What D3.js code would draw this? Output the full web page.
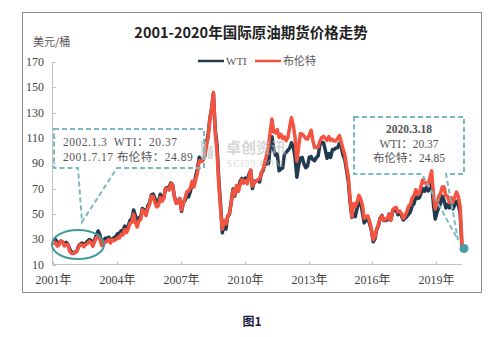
<!DOCTYPE html>
<html><head><meta charset="utf-8">
<script src="https://cdn.jsdelivr.net/npm/d3@7"></script>
<style>body{margin:0;background:#fff}svg{display:block}</style>
</head><body><svg id="c" width="500" height="337"></svg>
<script>
const extraDates = ["2020-03-09", "2020-03-18"];
const wti = [
29.6,29.6,27.2,27.4,28.6,27.6,26.5,27.5,25.9,22.2,19.7,19.3,
19.7,20.7,24.5,26.2,27.0,25.5,26.9,28.4,29.7,28.9,26.3,29.4,
32.9,36.5,33.6,28.3,28.1,30.7,30.8,31.6,28.3,30.3,31.1,32.2,
34.3,34.7,36.7,36.7,40.3,38.0,40.7,44.9,46.0,53.1,48.5,43.3,
46.8,48.0,54.3,53.0,49.8,56.3,58.7,65.0,65.6,62.4,58.3,59.4,
65.5,61.6,62.9,69.7,70.9,70.9,74.4,73.0,63.8,58.9,59.1,62.0,
52.0,59.3,60.4,63.9,63.5,67.5,74.1,72.4,79.9,85.8,94.8,91.7,
93.0,95.4,105.5,112.6,125.4,133.9,145.0,116.7,104.1,76.6,57.3,35.0,
41.7,38.0,47.9,49.6,59.0,69.6,64.1,71.0,69.4,75.7,78.0,74.5,
78.3,76.4,81.2,84.3,70.0,75.3,76.3,76.6,75.2,81.9,84.3,89.2,
89.6,89.7,102.9,111.0,100.9,96.3,97.3,84.0,85.5,86.3,97.2,98.6,
100.3,102.2,106.2,103.3,94.7,79.0,87.9,94.1,94.5,89.5,86.5,87.9,
94.8,95.3,92.9,92.0,94.5,95.8,104.6,106.6,106.3,100.5,93.9,97.6,
94.6,100.8,100.8,102.1,102.2,105.8,103.6,96.5,93.2,84.4,75.8,59.3,
47.2,50.6,47.8,54.5,59.3,59.8,50.9,42.9,45.5,46.2,42.4,37.2,
28.0,30.3,37.5,40.8,46.7,48.8,44.7,44.7,45.2,49.8,45.7,52.0,
52.5,53.5,49.3,51.1,48.5,45.2,46.6,48.0,49.8,51.6,56.6,57.9,
63.7,62.2,62.7,66.3,70.0,67.9,71.0,68.1,70.2,74.0,57.0,46.0,
51.4,54.9,58.2,63.9,60.8,54.7,57.4,54.8,57.0,54.0,57.0,59.9,
57.5,50.5,31.1,20.37];
const brent = [
25.6,27.5,24.5,25.6,28.5,27.8,24.6,25.8,25.7,20.5,18.8,18.7,
19.4,20.3,23.7,25.7,25.4,24.1,25.7,26.6,28.3,27.5,24.3,28.0,
31.2,32.8,30.3,25.0,25.8,27.6,28.4,29.8,27.1,29.6,28.8,29.8,
31.2,30.9,33.8,33.4,37.6,35.2,38.2,42.7,43.2,49.8,43.1,39.6,
44.5,45.5,53.1,51.9,48.7,54.3,57.5,63.9,63.8,58.9,55.5,56.7,
63.0,60.0,62.1,70.3,69.8,68.7,73.7,73.2,62.8,58.3,58.8,62.0,
53.0,57.8,62.4,67.5,67.9,70.6,75.8,71.2,77.0,82.5,92.1,91.4,
91.9,94.8,103.3,110.4,124.6,133.5,146.0,113.9,99.1,72.8,53.2,38.0,
45.0,42.0,47.0,50.8,57.9,68.6,64.9,72.5,67.7,73.2,77.0,74.7,
76.2,73.8,78.8,84.8,72.0,74.8,75.6,77.0,77.8,82.7,85.3,91.5,
96.5,103.7,114.6,125.0,114.5,113.9,116.7,110.4,112.8,109.6,110.8,107.9,
110.7,119.3,126.0,119.8,110.3,92.0,102.6,113.4,113.0,111.5,109.5,109.2,
112.3,116.1,108.5,102.3,102.6,102.9,107.4,110.3,111.2,109.5,108.1,111.0,
108.1,108.9,107.5,107.8,109.5,111.9,106.8,101.6,97.1,87.4,79.4,62.3,
47.8,58.1,55.9,59.5,64.6,61.7,56.8,46.5,47.6,48.4,44.3,38.0,
29.5,32.2,38.2,41.6,46.7,48.3,45.0,45.7,46.6,49.5,44.7,53.3,
54.6,55.0,51.6,52.3,50.3,46.4,48.5,51.7,56.2,57.5,62.7,64.4,
69.1,65.3,66.0,72.1,76.9,74.4,74.3,72.5,78.9,84.0,64.8,54.0,
59.4,64.0,66.1,71.2,71.3,64.2,63.9,59.0,62.8,59.7,63.2,67.3,
63.7,55.7,34.4,24.85];
const yTicks = [10,30,50,70,90,110,130,150,170];
const xTickYears = [2001,2004,2007,2010,2013,2016,2019];
const seriesNames = ["WTI","布伦特"];
const note1 = ["2002.1.3  WTI：20.37","2001.7.17 布伦特：24.89"];
const note2 = ["2020.3.18","WTI：20.37","布伦特：24.85"];

const monthly = d3.timeMonth.range(new Date(2001,0,1), new Date(2020,2,1)).map(d=>new Date(d.getFullYear(), d.getMonth(), 15));
const dates = monthly.concat(extraDates.map(s=>d3.timeParse("%Y-%m-%d")(s)));

const svg = d3.select("#c");
svg.append("rect").attr("width",500).attr("height",337).attr("fill","#fff");
svg.append("rect").attr("x",22.5).attr("y",12.5).attr("width",459).attr("height",280)
  .attr("fill","none").attr("stroke","#8c8c8c").attr("stroke-width",1);

const x = d3.scaleTime().domain([new Date(2001,0,1), new Date(2020,2,18)]).range([53,462]);
const y = d3.scaleLinear().domain([10,170]).range([264.5,62]);
const FONT_NUM = "'Liberation Serif','Noto Sans CJK SC',serif";

// title
svg.append("text").attr("x",251).attr("y",38).attr("text-anchor","middle")
  .attr("font-family","'Noto Sans CJK SC',sans-serif").attr("font-weight","bold").attr("font-size",14.5)
  .attr("fill","#222").text("2001-2020年国际原油期货价格走势");
svg.append("text").attr("x",33).attr("y",46).attr("font-family","'Noto Sans CJK SC',sans-serif")
  .attr("font-size",11).attr("fill","#555").text("美元/桶");

// legend
const leg = [{n:seriesNames[0],c:"#223a50",x0:198},{n:seriesNames[1],c:"#f45340",x0:255}];
leg.forEach(l=>{
  svg.append("line").attr("x1",l.x0).attr("x2",l.x0+26).attr("y1",61).attr("y2",61).attr("stroke",l.c).attr("stroke-width",2.5);
  svg.append("text").attr("x",l.x0+28).attr("y",65).attr("font-family",FONT_NUM).attr("font-size",11).attr("fill","#555").text(l.n);
});

// axes
const ax = svg.append("g").attr("stroke","#c0c0c0").attr("fill","none");
ax.append("line").attr("x1",52.5).attr("x2",52.5).attr("y1",y(170)).attr("y2",y(10));
ax.append("line").attr("x1",52.5).attr("x2",462).attr("y1",y(10)).attr("y2",y(10));
yTicks.forEach(t=>{
  ax.append("line").attr("x1",52.5).attr("x2",56).attr("y1",Math.round(y(t))+0.5).attr("y2",Math.round(y(t))+0.5);
  svg.append("text").attr("x",44).attr("y",y(t)+4).attr("text-anchor","end").attr("font-family",FONT_NUM)
    .attr("font-size",12).attr("fill","#444").text(t);
});
xTickYears.forEach(t=>{
  const xx = Math.round(x(new Date(t,0,1)))+0.5;
  ax.append("line").attr("x1",xx).attr("x2",xx).attr("y1",y(10)).attr("y2",y(10)-3);
  svg.append("text").attr("x",xx).attr("y",284).attr("text-anchor","middle").attr("font-family",FONT_NUM)
    .attr("font-size",12).attr("fill","#444").text(t+"年");
});

// lines
const line = d3.line().x((d,i)=>x(dates[i])).y(d=>y(d)).curve(d3.curveLinear);
svg.append("path").datum(wti).attr("d",line).attr("fill","none").attr("stroke","#223a50").attr("stroke-width",3.5).attr("stroke-linejoin","round");
svg.append("path").datum(brent).attr("d",line).attr("fill","none").attr("stroke","#f45340").attr("stroke-width",3.5).attr("stroke-linejoin","round");

// watermark (on top, translucent)
const wm = svg.append("g").attr("opacity",0.6);
wm.append("rect").attr("x",201).attr("y",141).attr("width",5).attr("height",18).attr("fill","#c8c8c8");
wm.append("rect").attr("x",208).attr("y",146).attr("width",5).attr("height",13).attr("fill","#c8c8c8");
wm.append("text").attr("x",226).attr("y",153).attr("font-family","'Noto Sans CJK SC',sans-serif").attr("font-weight","bold")
  .attr("font-size",15).attr("fill","#bdbdbd").text("卓创资讯");
wm.append("text").attr("x",227).attr("y",167).attr("font-family",FONT_NUM).attr("font-size",9.5).attr("letter-spacing",1)
  .attr("fill","#c4c4c4").text("SCI99.COM");

// annotations
const ann = svg.append("g").attr("fill","none").attr("stroke","#7bb8c0").attr("stroke-width",2).attr("stroke-dasharray","5,3");
ann.append("path").attr("d","M54,129 H204 V168 H117 L82,222 L78,168 H54 Z");
ann.append("path").attr("d","M354,117 H464 V174 H446 L458,240 L422,174 H354 Z");
svg.append("ellipse").attr("cx",78).attr("cy",244.5).attr("rx",26).attr("ry",14.5)
  .attr("fill","none").attr("stroke","#3f9a9c").attr("stroke-width",2);
const last = dates.length-1;
svg.append("circle").attr("cx",x(dates[last])+2).attr("cy",y((wti[last]+brent[last])/2)).attr("r",4.5).attr("fill","#4a9ea3");

note1.forEach((t,i)=>svg.append("text").attr("x",63).attr("y",146+i*15).attr("font-family",FONT_NUM)
  .attr("font-size",11.5).attr("letter-spacing",0.5).attr("fill","#555").style("white-space","pre").text(t));
note2.forEach((t,i)=>svg.append("text").attr("x",409).attr("y",133+i*14.5).attr("text-anchor","middle").attr("font-family",FONT_NUM)
  .attr("font-size",11.5).attr("font-weight",i==0?"bold":"normal").attr("fill","#555").text(t));

// caption
svg.append("text").attr("x",252).attr("y",326).attr("text-anchor","middle").attr("font-family","'Noto Sans CJK SC',sans-serif")
  .attr("font-weight","bold").attr("font-size",12).attr("fill","#1c1c3c").text("图1");
</script></body></html>
